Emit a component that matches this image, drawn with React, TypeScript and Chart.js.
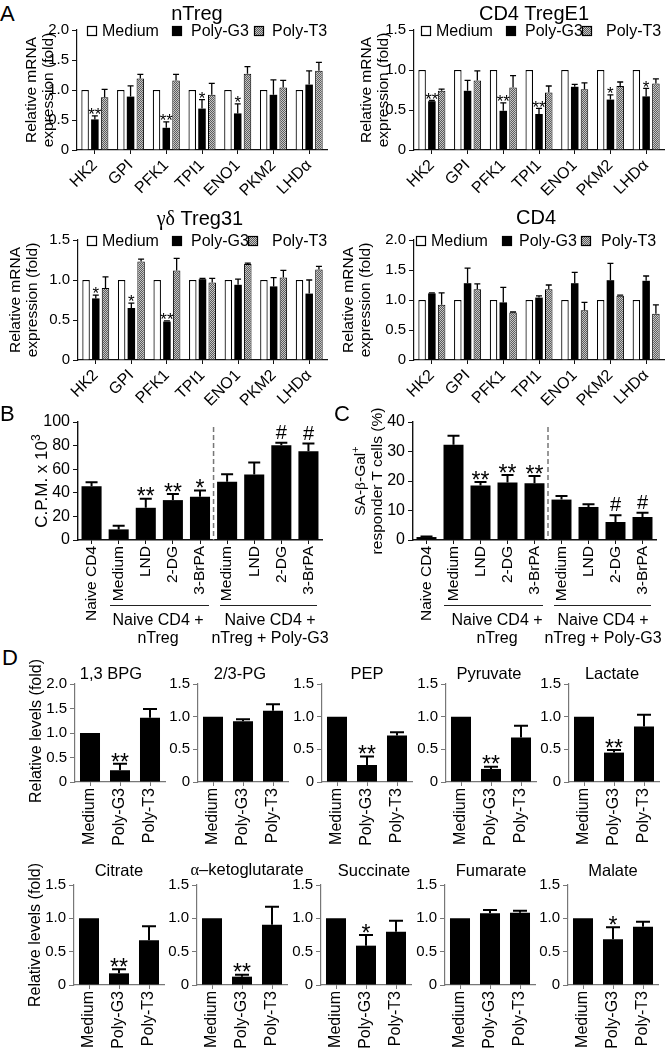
import React, { useEffect, useRef } from 'react';
import { Chart, registerables } from 'chart.js';
Chart.register(...registerables);

const FONT = "'Liberation Sans', Arial, Helvetica, sans-serif";
const SERIF = "'Liberation Serif', 'DejaVu Serif', serif";

// ---------------- Panel A: relative mRNA expression ----------------
const genes = ['HK2', 'GPI', 'PFK1', 'TPI1', 'ENO1', 'PKM2', 'LHDα'];
const legendNames = ['Medium', 'Poly-G3', 'Poly-T3'];
const mediumFold = [1, 1, 1, 1, 1, 1, 1];

const nTregG3 = [0.51, 0.89, 0.37, 0.69, 0.61, 0.92, 1.09];
const nTregG3Err = [0.06, 0.18, 0.1, 0.15, 0.16, 0.25, 0.23];
const nTregT3 = [0.88, 1.19, 1.16, 0.92, 1.27, 1.04, 1.32];
const nTregT3Err = [0.13, 0.07, 0.1, 0.19, 0.12, 0.12, 0.14];
const nTregSig = ['**', '', '**', '*', '*', '', ''];

const tregE1G3 = [0.61, 0.74, 0.49, 0.45, 0.79, 0.63, 0.67];
const tregE1G3Err = [0.01, 0.13, 0.1, 0.07, 0.03, 0.06, 0.1];
const tregE1T3 = [0.74, 0.87, 0.78, 0.72, 0.76, 0.8, 0.83];
const tregE1T3Err = [0.02, 0.12, 0.15, 0.08, 0.08, 0.05, 0.06];
const tregE1Sig = ['**', '', '**', '**', '', '*', '*'];

const gdTregG3 = [0.77, 0.65, 0.48, 1.01, 0.94, 0.92, 0.83];
const gdTregG3Err = [0.04, 0.06, 0.01, 0.01, 0.07, 0.11, 0.17];
const gdTregT3 = [0.9, 1.23, 1.12, 0.97, 1.2, 1.03, 1.13];
const gdTregT3Err = [0.14, 0.03, 0.15, 0.05, 0.01, 0.09, 0.04];
const gdTregSig = ['*', '*', '**', '', '', '', ''];

const cd4G3 = [1.11, 1.28, 0.96, 1.04, 1.28, 1.33, 1.32];
const cd4G3Err = [0.01, 0.25, 0.25, 0.03, 0.18, 0.28, 0.08];
const cd4T3 = [0.92, 1.18, 0.79, 1.18, 0.83, 1.07, 0.77];
const cd4T3Err = [0.2, 0.09, 0.01, 0.07, 0.13, 0.01, 0.15];

// ---------------- Panels B & C ----------------
const bcLabels = ['Naive CD4', 'Medium', 'LND', '2-DG', '3-BrPA', 'Medium', 'LND', '2-DG', '3-BrPA'];
const cpm = [45.6, 9, 27.3, 33.8, 36.6, 49.3, 55.5, 80.3, 75.2];
const cpmErr = [3.4, 3, 7.7, 5.1, 5.4, 6.5, 10.1, 2.2, 6.5];
const cpmSig = ['', '', '**', '**', '*', '', '', '#', '#'];

const saGal = [1.0, 32.3, 18.5, 19.5, 19.2, 13.7, 11.2, 6.1, 7.8];
const saGalErr = [0.2, 3.0, 1.2, 2.5, 2.5, 1.2, 0.9, 2.3, 1.4];
const saGalSig = ['', '', '**', '**', '**', '', '', '#', '#'];

// ---------------- Panel D: metabolites ----------------
const dGroups = ['Medium', 'Poly-G3', 'Poly-T3'];
const bpg13 = [1.0, 0.24, 1.31];
const bpg13Err = [0, 0.13, 0.18];
const pg23 = [1.0, 0.93, 1.09];
const pg23Err = [0, 0.03, 0.1];
const pep = [1.0, 0.26, 0.71];
const pepErr = [0, 0.13, 0.05];
const pyruvate = [1.0, 0.2, 0.68];
const pyruvateErr = [0, 0.035, 0.18];
const lactate = [1.0, 0.45, 0.85];
const lactateErr = [0, 0.04, 0.18];
const citrate = [1.0, 0.175, 0.67];
const citrateErr = [0, 0.06, 0.21];
const akg = [1.0, 0.125, 0.905];
const akgErr = [0, 0.03, 0.27];
const succinate = [1.0, 0.59, 0.8];
const succinateErr = [0, 0.16, 0.165];
const fumarate = [1.0, 1.075, 1.085];
const fumarateErr = [0, 0.05, 0.03];
const malate = [1.0, 0.685, 0.875];
const malateErr = [0, 0.18, 0.075];
const sig2 = ['', '**', ''];
const sig1 = ['', '*', ''];
const sigNone = ['', '', ''];

// ---------------- layout ----------------
const YW = 45;
const PT = 14;
const PR = 14;

type SetSpec = { data: number[]; err: number[] | null; fill: 'white' | 'black' | 'pattern'; bw: number };
type Spec = {
  L: number; T: number; R: number; B: number;
  labels: string[];
  sets: SetSpec[];
  markSet: number; marks: string[];
  yMax: number; step: number; dec: number;
  rot: number; xFont: number; yFont: number; xH: number;
  barPct: number; catPct: number;
  axisColor: string; axisW: number;
  cap: number; errW: number; starSize: number; hashSize: number; gap: number;
  divider?: number; legend?: number[];
};

const aBase = {
  labels: genes, yMax: 2, step: 0.5, dec: 1, rot: 45, xFont: 16, yFont: 15, xH: 48,
  barPct: 0.77, catPct: 0.82, axisColor: '#111', axisW: 1.2, cap: 6, errW: 1.3,
  starSize: 17, hashSize: 16, gap: 3, markSet: 1,
};
const aSets = (g3: number[], g3e: number[], t3: number[], t3e: number[]): SetSpec[] => [
  { data: mediumFold, err: null, fill: 'white', bw: 1.2 },
  { data: g3, err: g3e, fill: 'black', bw: 0 },
  { data: t3, err: t3e, fill: 'pattern', bw: 1 },
];

const bcBase = {
  labels: bcLabels, step: 20, dec: 0, rot: 90, xFont: 15.5, yFont: 16, xH: 80,
  barPct: 0.74, catPct: 1, axisColor: '#111', axisW: 1.4, cap: 12, errW: 2,
  starSize: 23, hashSize: 20, gap: 4, markSet: 0, divider: 4.5,
};

const dBase = {
  labels: dGroups, step: 0.5, dec: 1, rot: 90, xFont: 16, yFont: 15, xH: 70,
  barPct: 0.667, catPct: 1, axisColor: '#777', axisW: 1.2, cap: 14, errW: 2,
  starSize: 23, hashSize: 20, gap: 4, markSet: 0,
};
const dCols = [75, 198, 322, 446, 569];
const dRow1: [number[], number[], string[], number][] = [
  [bpg13, bpg13Err, sig2, 2], [pg23, pg23Err, sigNone, 1.5], [pep, pepErr, sig2, 1.5],
  [pyruvate, pyruvateErr, sig2, 1.5], [lactate, lactateErr, sig2, 1.5],
];
const dRow2: [number[], number[], string[], number][] = [
  [citrate, citrateErr, sig2, 1.5], [akg, akgErr, sig2, 1.5], [succinate, succinateErr, sig1, 1.5],
  [fumarate, fumarateErr, sigNone, 1.5], [malate, malateErr, sig1, 1.5],
];

const SPECS: Spec[] = [
  { ...aBase, L: 77, T: 30, R: 327, B: 150, sets: aSets(nTregG3, nTregG3Err, nTregT3, nTregT3Err), marks: nTregSig, yMax: 2, legend: [10, 25, 95, 114, 177, 195] },
  { ...aBase, L: 414, T: 30, R: 664, B: 150, sets: aSets(tregE1G3, tregE1G3Err, tregE1T3, tregE1T3Err), marks: tregE1Sig, yMax: 1.5, legend: [7, 22, 92, 111, 168, 192] },
  { ...aBase, L: 78, T: 240, R: 327, B: 360, sets: aSets(gdTregG3, gdTregG3Err, gdTregT3, gdTregT3Err), marks: gdTregSig, yMax: 1.5, legend: [9, 24, 94, 113, 170, 194] },
  { ...aBase, L: 414, T: 240, R: 664, B: 360, sets: aSets(cd4G3, cd4G3Err, cd4T3, cd4T3Err), marks: ['', '', '', '', '', '', ''], yMax: 2, legend: [2, 17, 88, 105, 167, 187] },
  { ...bcBase, L: 78, T: 422, R: 322, B: 540, sets: [{ data: cpm, err: cpmErr, fill: 'black', bw: 0 }], marks: cpmSig, yMax: 100 },
  { ...bcBase, L: 413, T: 422, R: 656, B: 540, sets: [{ data: saGal, err: saGalErr, fill: 'black', bw: 0 }], marks: saGalSig, yMax: 40, step: 10 },
  ...dRow1.map(([v, e, s, m], i) => ({ ...dBase, L: dCols[i], T: 684, R: dCols[i] + 90, B: 782, sets: [{ data: v, err: e, fill: 'black' as const, bw: 0 }], marks: s, yMax: m })),
  ...dRow2.map(([v, e, s, m], i) => ({ ...dBase, L: dCols[i] - 1, T: 885, R: dCols[i] + 89, B: 985, sets: [{ data: v, err: e, fill: 'black' as const, bw: 0 }], marks: s, yMax: m })),
];

const overlayPlugin = {
  id: 'overlay',
  afterDatasetsDraw(chart: any) {
    const o = chart.options.plugins.overlay;
    if (!o) return;
    const ctx: CanvasRenderingContext2D = chart.ctx;
    const ys = chart.scales.y;
    const xs = chart.scales.x;
    const area = chart.chartArea;
    ctx.save();
    // error bars
    chart.data.datasets.forEach((ds: any, di: number) => {
      const errs: number[] | null = o.errors[di];
      if (!errs) return;
      const meta = chart.getDatasetMeta(di);
      meta.data.forEach((bar: any, i: number) => {
        const e = errs[i];
        if (!e) return;
        const top = ys.getPixelForValue(ds.data[i] + e);
        ctx.strokeStyle = '#000';
        ctx.lineWidth = o.errW;
        ctx.beginPath();
        ctx.moveTo(bar.x, bar.y);
        ctx.lineTo(bar.x, top);
        ctx.moveTo(bar.x - o.cap / 2, top);
        ctx.lineTo(bar.x + o.cap / 2, top);
        ctx.stroke();
      });
    });
    // significance marks
    const ms = chart.getDatasetMeta(o.markSet);
    const mds = chart.data.datasets[o.markSet];
    const merr: number[] | null = o.errors[o.markSet];
    ms.data.forEach((bar: any, i: number) => {
      const m = o.marks[i];
      if (!m) return;
      const top = ys.getPixelForValue(mds.data[i] + (merr ? merr[i] || 0 : 0));
      const star = m.indexOf('*') >= 0;
      const fs = star ? o.starSize : o.hashSize;
      ctx.font = `${fs}px ${FONT}`;
      ctx.fillStyle = '#000';
      ctx.textAlign = 'center';
      ctx.textBaseline = 'alphabetic';
      const base = star ? top - o.gap + 0.42 * fs : top - o.gap;
      ctx.fillText(m, bar.x, base);
    });
    // dashed divider
    if (o.divider != null) {
      const a = Math.floor(o.divider);
      const x = (xs.getPixelForValue(a) + xs.getPixelForValue(a + 1)) / 2;
      ctx.strokeStyle = '#777';
      ctx.lineWidth = 1.5;
      ctx.setLineDash([5, 3]);
      ctx.beginPath();
      ctx.moveTo(x, area.top + 5);
      ctx.lineTo(x, area.bottom);
      ctx.stroke();
      ctx.setLineDash([]);
    }
    // legend
    if (o.legend) {
      const cy = area.top + 1;
      const off: number[] = o.legend;
      chart.data.datasets.forEach((ds: any, di: number) => {
        const bx = area.left + off[di * 2];
        const tx = area.left + off[di * 2 + 1];
        ctx.fillStyle = ds.backgroundColor;
        ctx.fillRect(bx, cy - 5, 10, 10);
        ctx.strokeStyle = '#000';
        ctx.lineWidth = 1.2;
        ctx.strokeRect(bx + 0.5, cy - 4.5, 9, 9);
        ctx.fillStyle = '#000';
        ctx.font = `16px ${FONT}`;
        ctx.textAlign = 'left';
        ctx.textBaseline = 'middle';
        ctx.fillText(o.legendNames[di], tx, cy + 1);
      });
    }
    ctx.restore();
  },
};

function buildConfig(s: Spec, pattern: any): any {
  const fillOf = (f: string) => (f === 'white' ? '#ffffff' : f === 'black' ? '#000000' : pattern);
  return {
    type: 'bar',
    data: {
      labels: s.labels,
      datasets: s.sets.map((d) => ({
        data: d.data,
        backgroundColor: fillOf(d.fill),
        borderColor: '#000',
        borderWidth: d.bw,
        barPercentage: s.barPct,
        categoryPercentage: s.catPct,
      })),
    },
    options: {
      animation: false,
      responsive: false,
      maintainAspectRatio: false,
      devicePixelRatio: 1,
      layout: { padding: { top: PT, right: PR, left: 0, bottom: 0 } },
      events: [],
      plugins: {
        legend: { display: false },
        tooltip: { enabled: false },
        overlay: {
          errors: s.sets.map((d) => d.err),
          marks: s.marks,
          markSet: s.markSet,
          cap: s.cap,
          errW: s.errW,
          starSize: s.starSize,
          hashSize: s.hashSize,
          gap: s.gap,
          divider: s.divider,
          legend: s.legend,
          legendNames,
        },
      },
      scales: {
        x: {
          type: 'category',
          offset: true,
          grid: { display: true, drawOnChartArea: false, drawTicks: true, tickLength: 4, offset: false, color: s.axisColor, lineWidth: 1 },
          border: { display: true, color: s.axisColor, width: s.axisW },
          ticks: { autoSkip: false, minRotation: s.rot, maxRotation: s.rot, font: { size: s.xFont, family: FONT }, color: '#000', padding: 2 },
          afterFit: (sc: any) => { sc.height = s.xH; },
        },
        y: {
          min: 0,
          max: s.yMax,
          grid: { display: true, drawOnChartArea: false, drawTicks: true, tickLength: 5, color: s.axisColor, lineWidth: 1 },
          border: { display: true, color: s.axisColor, width: s.axisW },
          ticks: {
            stepSize: s.step,
            font: { size: s.yFont, family: FONT },
            color: '#000',
            padding: 3,
            callback: (v: any) => (Number(v) === 0 ? '0' : Number(v).toFixed(s.dec)),
          },
          afterFit: (sc: any) => { sc.width = YW; },
        },
      },
    },
    plugins: [overlayPlugin],
  };
}

type TxtProps = { x: number; y: number; size: number; rot?: boolean; children: any; family?: string };
function Txt({ x, y, size, rot, children, family }: TxtProps) {
  return (
    <div
      style={{
        position: 'absolute', left: x, top: y,
        transform: `translate(-50%, -50%)${rot ? ' rotate(-90deg)' : ''}`,
        whiteSpace: 'nowrap', fontSize: size, lineHeight: 1.1, textAlign: 'center',
        fontFamily: family || FONT, color: '#000',
      }}
    >
      {children}
    </div>
  );
}

function HLine({ x1, x2, y }: { x1: number; x2: number; y: number }) {
  return <div style={{ position: 'absolute', left: x1, top: y, width: x2 - x1, height: 0, borderTop: '1.3px solid #222' }} />;
}

const g = (t: string) => <span style={{ fontFamily: SERIF }}>{t}</span>;

export default function App() {
  const refs = useRef<(HTMLCanvasElement | null)[]>([]);
  useEffect(() => {
    Chart.defaults.font.family = FONT;
    Chart.defaults.color = '#000';
    const pc = document.createElement('canvas');
    pc.width = 2;
    pc.height = 2;
    const pctx = pc.getContext('2d')!;
    pctx.fillStyle = '#c6c6c6';
    pctx.fillRect(0, 0, 2, 2);
    pctx.fillStyle = '#5c5c5c';
    pctx.fillRect(0, 0, 1, 1);
    pctx.fillRect(1, 1, 1, 1);
    const pattern = pctx.createPattern(pc, 'repeat');
    const charts = SPECS.map((s, i) => new Chart(refs.current[i] as HTMLCanvasElement, buildConfig(s, pattern)));
    return () => charts.forEach((c) => c.destroy());
  }, []);

  return (
    <div style={{ position: 'absolute', left: 0, top: 0, width: 668, height: 1050, background: '#fff', overflow: 'hidden', fontFamily: FONT }}>
      {SPECS.map((s, i) => (
        <canvas
          key={i}
          ref={(el) => { refs.current[i] = el; }}
          width={YW + (s.R - s.L) + PR}
          height={PT + (s.B - s.T) + s.xH}
          style={{ position: 'absolute', left: s.L - YW, top: s.T - PT }}
        />
      ))}

      {/* panel letters */}
      <div style={{ position: 'absolute', left: 0, top: 3, fontSize: 22, lineHeight: '22px' }}>A</div>
      <div style={{ position: 'absolute', left: 0, top: 403, fontSize: 22, lineHeight: '22px' }}>B</div>
      <div style={{ position: 'absolute', left: 334, top: 403, fontSize: 22, lineHeight: '22px' }}>C</div>
      <div style={{ position: 'absolute', left: 2, top: 647, fontSize: 22, lineHeight: '22px' }}>D</div>

      {/* panel A titles */}
      <Txt x={197} y={13} size={20}>nTreg</Txt>
      <Txt x={534} y={13} size={20}>CD4 TregE1</Txt>
      <Txt x={200} y={218} size={20}>{g('γδ')} Treg31</Txt>
      <Txt x={536} y={217} size={20}>CD4</Txt>
      <Txt x={39} y={90} size={15.5} rot>Relative mRNA<br />expression (fold)</Txt>
      <Txt x={374} y={90} size={15.5} rot>Relative mRNA<br />expression (fold)</Txt>
      <Txt x={23} y={300} size={15.5} rot>Relative mRNA<br />expression (fold)</Txt>
      <Txt x={356} y={300} size={15.5} rot>Relative mRNA<br />expression (fold)</Txt>

      {/* panel B/C axis titles */}
      <Txt x={41} y={481} size={17} rot>C.P.M. x 10<sup style={{ fontSize: 12 }}>3</sup></Txt>
      <Txt x={367} y={481} size={15.5} rot>SA-{g('β')}-Gal<sup style={{ fontSize: 11 }}>+</sup><br />responder T cells (%)</Txt>

      {/* group brackets */}
      <HLine x1={110} x2={209} y={605} />
      <HLine x1={220} x2={317} y={605} />
      <HLine x1={444} x2={543} y={605} />
      <HLine x1={554} x2={651} y={605} />
      <Txt x={158} y={620} size={16}>Naive CD4 +</Txt>
      <Txt x={158} y={638} size={16}>nTreg</Txt>
      <Txt x={270} y={620} size={16}>Naive CD4 +</Txt>
      <Txt x={270} y={638} size={16}>nTreg + Poly-G3</Txt>
      <Txt x={497} y={620} size={16}>Naive CD4 +</Txt>
      <Txt x={497} y={638} size={16}>nTreg</Txt>
      <Txt x={603} y={620} size={16}>Naive CD4 +</Txt>
      <Txt x={603} y={638} size={16}>nTreg + Poly-G3</Txt>

      {/* panel D titles */}
      <Txt x={111} y={673} size={16.5}>1,3 BPG</Txt>
      <Txt x={240} y={673} size={16.5}>2/3-PG</Txt>
      <Txt x={367} y={673} size={16.5}>PEP</Txt>
      <Txt x={489} y={673} size={16.5}>Pyruvate</Txt>
      <Txt x={612} y={673} size={16.5}>Lactate</Txt>
      <Txt x={119} y={870} size={16.5}>Citrate</Txt>
      <Txt x={247} y={870} size={16.5}>{g('α')}–ketoglutarate</Txt>
      <Txt x={374} y={870} size={16.5}>Succinate</Txt>
      <Txt x={491} y={870} size={16.5}>Fumarate</Txt>
      <Txt x={613} y={870} size={16.5}>Malate</Txt>
      <Txt x={36} y={731} size={16} rot>Relative levels (fold)</Txt>
      <Txt x={35} y={935} size={16} rot>Relative levels (fold)</Txt>
    </div>
  );
}
